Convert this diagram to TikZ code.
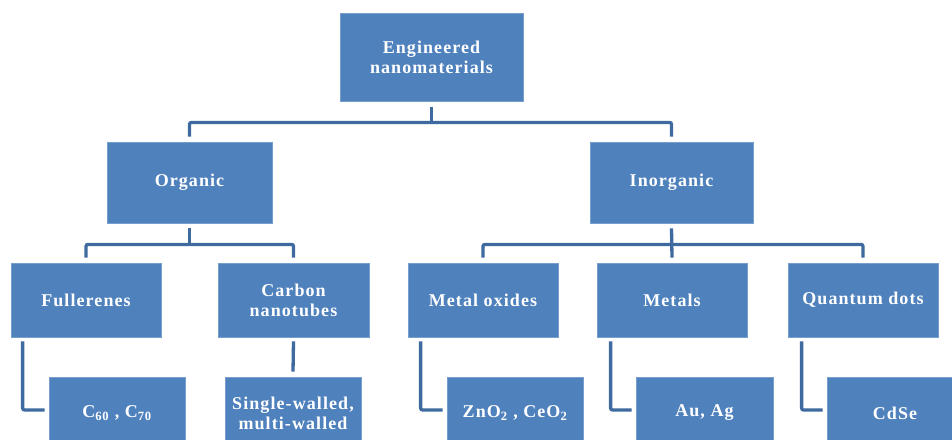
\documentclass[tikz,border=0pt]{standalone}
\usepackage{fontspec}
\setmainfont{Liberation Serif}[LetterSpace=6]
\usetikzlibrary{calc}
\definecolor{boxblue}{RGB}{79,129,189}
\definecolor{boxedge}{RGB}{120,158,206}
\definecolor{connblue}{RGB}{62,106,160}
\tikzset{
  box/.style={rectangle, fill=boxblue, draw=boxedge, line width=0.8pt, inner sep=0pt,
    text=white, align=center, font=\fontsize{18}{20}\selectfont\bfseries},
  conn/.style={draw=connblue, line width=3.3pt, rounded corners=2pt}
}
\begin{document}
\begin{tikzpicture}[x=1pt,y=-1pt]
\useasboundingbox (0,0) rectangle (952,439);
\clip (0,0) rectangle (952,439);
% level 1
\node[box, minimum width=183pt, minimum height=88pt] (top) at (431.5,57) {Engineered\\nanomaterials};
% level 2
\node[box, minimum width=165pt, minimum height=81pt] (org) at (189.5,182.5) {Organic};
\node[box, minimum width=163pt, minimum height=81pt] (inorg) at (671.5,182.5) {Inorganic};
% level 3
\node[box, minimum width=150pt, minimum height=74pt] (full) at (86,300) {Fullerenes};
\node[box, minimum width=151pt, minimum height=74pt] (cnt) at (293.5,300) {Carbon\\nanotubes};
\node[box, minimum width=150pt, minimum height=74pt] (mox) at (483,300) {Metal oxides};
\node[box, minimum width=150pt, minimum height=74pt] (met) at (672,300) {Metals};
\node[box, minimum width=150pt, minimum height=74pt] (qd) at (863,300) {Quantum dots};
% level 4
\node[box, minimum width=136pt, minimum height=72pt] (c60) at (117,413) {C\textsubscript{60} , C\textsubscript{70}};
\node[box, minimum width=136pt, minimum height=72pt] (sw) at (293,413) {Single-walled,\\multi-walled};
\node[box, minimum width=136pt, minimum height=72pt] (zno) at (515,413) {ZnO\textsubscript{2} , CeO\textsubscript{2}};
\node[box, minimum width=137pt, minimum height=72pt] (au) at (704.5,413) {Au, Ag};
\node[box, minimum width=136pt, minimum height=72pt] (cdse) at (895,413) {CdSe};
% bus coordinates
\coordinate (b1) at ($(top.south)+(0,21)$);
\coordinate (b2) at ($(org.south)+(0,21)$);
\coordinate (b3) at ($(inorg.south)+(0,21)$);
% connectors level 1 -> 2
\draw[conn] ($(top.south)+(0,6)$) -- (b1);
\draw[conn] ($(org.north)+(0,-5)$) |- (b1) -| ($(inorg.north)+(0,-5)$);
% level 2 -> 3
\draw[conn] ($(org.south)+(0,5)$) -- (b2);
\draw[conn] ($(full.north)+(0,-5)$) |- (b2) -| ($(cnt.north)+(0,-5)$);
\draw[conn] ($(inorg.south)+(0,5)$) -- ($(met.north)+(0,-5)$);
\draw[conn] ($(mox.north)+(0,-5)$) |- (b3) -| ($(qd.north)+(0,-5)$);
% level 3 -> 4
\draw[conn] ($(full.south west)+(12,4)$) |- ($(c60.west)+(-4,-3)$);
\draw[conn] ($(cnt.south)+(0,4)$) -- ($(sw.north)+(0,-5)$);
\draw[conn] ($(mox.south west)+(13,4)$) |- ($(zno.west)+(-4,-3)$);
\draw[conn] ($(met.south west)+(14,4)$) |- ($(au.west)+(-4,-3)$);
\draw[conn] ($(qd.south west)+(14,4)$) |- ($(cdse.west)+(-4,-3)$);
\end{tikzpicture}
\end{document}
